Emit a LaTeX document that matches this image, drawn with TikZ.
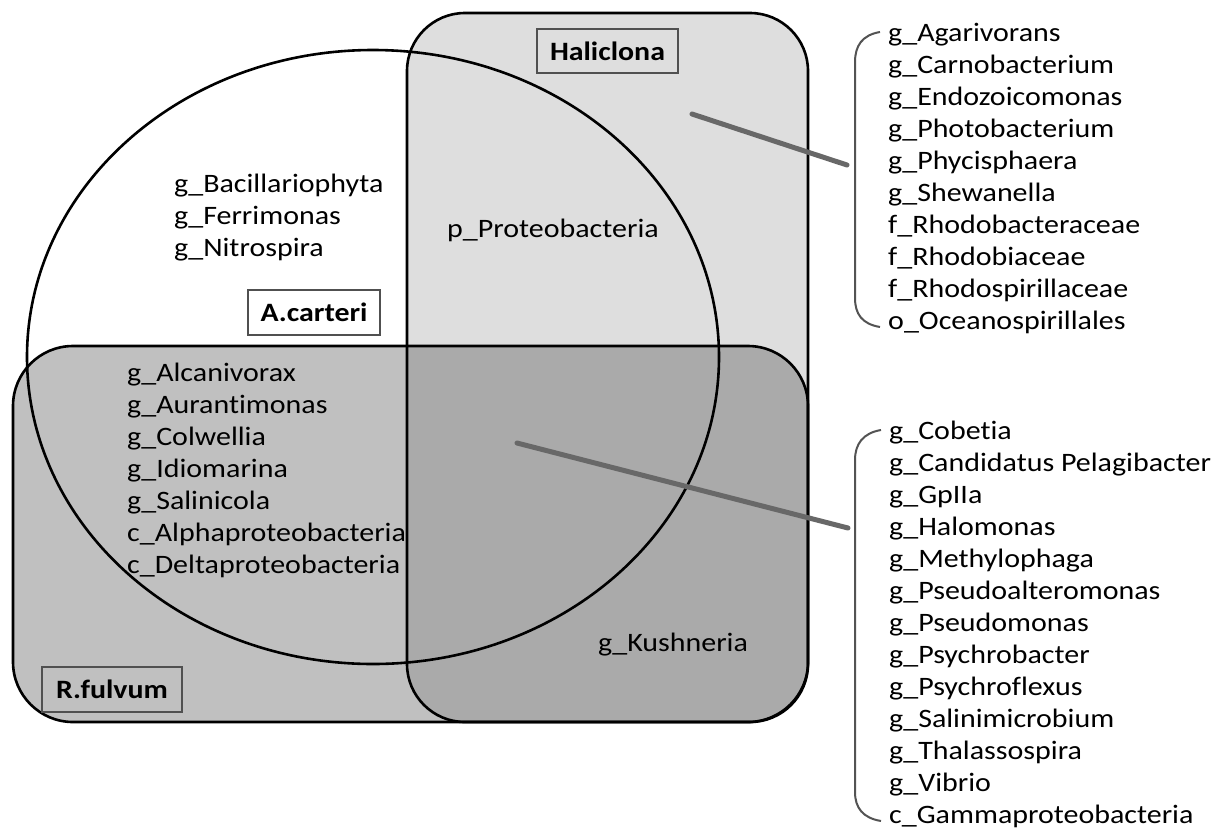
\documentclass[tikz,border=0pt]{standalone}
\usepackage{fontspec}
\setmainfont{Carlito}[FakeStretch=1.127,Ligatures={NoCommon}]
\definecolor{hali}{HTML}{DEDEDE}
\definecolor{rful}{HTML}{C0C0C0}
\definecolor{both}{HTML}{AAAAAA}
\definecolor{boxline}{HTML}{505050}
\definecolor{conn}{HTML}{686868}
\begin{document}
\begin{tikzpicture}[x=1pt,y=-1pt,
  outline/.style={draw=black,line width=2.6pt},
  setlabel/.style={draw=boxline,line width=2.5pt,font=\fontsize{26.5}{30}\selectfont\bfseries,inner sep=0pt,anchor=center},
  taxa/.style={font=\fontsize{26.6}{32}\selectfont,align=left,inner sep=0pt,anchor=west},
  connline/.style={draw=conn,line width=5pt,line cap=round},
  bracket/.style={draw=conn!80!black,line width=2pt}]
\useasboundingbox (0,0) rectangle (1212,828);
\fill[white] (0,0) rectangle (1212,828);
% fills
\fill[hali,rounded corners=58pt] (407,13) rectangle (808,722);
\fill[rful,rounded corners=60pt] (13,346) rectangle (808,722);
\begin{scope}
  \clip[rounded corners=58pt] (407,13) rectangle (808,722);
  \fill[both,rounded corners=60pt] (13,346) rectangle (808,722);
\end{scope}
% outlines
\draw[outline,rounded corners=58pt] (407,13) rectangle (808,722);
\draw[outline,rounded corners=60pt] (13,346) rectangle (808,722);
\draw[outline] (373,357) ellipse [x radius=346, y radius=307];
% set labels
\node[setlabel,fill=hali,minimum width=141pt,minimum height=44pt] (hal) at (607.5,51) {Haliclona};
\node[setlabel,fill=white,minimum width=132pt,minimum height=45pt] (aca) at (314,312.5) {A.carteri};
\node[setlabel,fill=rful,minimum width=140pt,minimum height=45pt] (rfu) at (112,689.5) {R.fulvum};
% region lists
\node[taxa] (acaonly) at (174,218) {g\_Bacillariophyta\\g\_Ferrimonas\\g\_Nitrospira};
\node[taxa] (acahal) at (447,230) {p\_Proteobacteria};
\node[taxa] (acarfu) at (127,470) {g\_Alcanivorax\\g\_Aurantimonas\\g\_Colwellia\\g\_Idiomarina\\g\_Salinicola\\c\_Alphaproteobacteria\\c\_Deltaproteobacteria};
\node[taxa] (halrfu) at (598,645) {g\_Kushneria};
% right lists
\node[taxa] (list1) at (888,178.5) {g\_Agarivorans\\g\_Carnobacterium\\g\_Endozoicomonas\\g\_Photobacterium\\g\_Phycisphaera\\g\_Shewanella\\f\_Rhodobacteraceae\\f\_Rhodobiaceae\\f\_Rhodospirillaceae\\o\_Oceanospirillales};
\node[taxa] (list2) at (889,624) {g\_Cobetia\\g\_Candidatus Pelagibacter\\g\_GpIIa\\g\_Halomonas\\g\_Methylophaga\\g\_Pseudoalteromonas\\g\_Pseudomonas\\g\_Psychrobacter\\g\_Psychroflexus\\g\_Salinimicrobium\\g\_Thalassospira\\g\_Vibrio\\c\_Gammaproteobacteria};
% brackets
\draw[bracket] (880,32) .. controls (862,35) and (855,46) .. (855,62) -- (855,298) .. controls (855,314) and (862,324) .. (880,327);
\draw[bracket] (881,430) .. controls (863,433) and (855,444) .. (855,460) -- (855,792) .. controls (855,808) and (863,818) .. (881,821);
% connectors
\coordinate (src1) at (692,114);
\coordinate (brk1) at (847,165);
\coordinate (src2) at (517,443);
\coordinate (brk2) at (848,528);
\draw[connline] (src1) -- (brk1);
\draw[connline] (src2) -- (brk2);
\end{tikzpicture}
\end{document}
